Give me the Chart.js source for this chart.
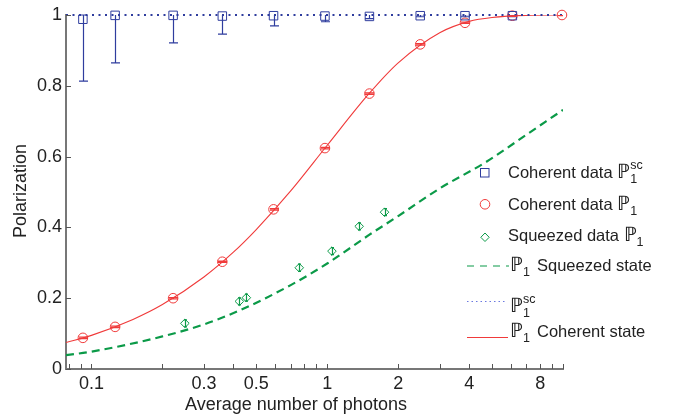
<!DOCTYPE html>
<html>
<head>
<meta charset="utf-8">
<script src="https://cdn.jsdelivr.net/npm/chart.js@4/dist/chart.umd.min.js"></script>
<style>
  body { margin: 0; background: #fff; }
  #wrap { width: 682px; height: 418px; position: relative; }
</style>
</head>
<body>
<div id="wrap"><canvas id="mycanvas"></canvas></div>
<script>
// coherent input, measured points
const cohX   = [0.092, 0.126, 0.222, 0.359, 0.592, 0.978, 1.51, 2.48, 3.84, 6.1, 9.9]
const cohP1  = [0.088, 0.119, 0.2, 0.303, 0.451, 0.624, 0.778, 0.917, 0.978, 0.998, 1.0]
const cohP1Err = [0.002, 0.002, 0.002, 0.002, 0.002, 0.002, 0.002, 0.002, 0.002, 0.002, 0.002]
// P1^sc measured at the same photon numbers (no point at the last one)
const scX    = [0.092, 0.126, 0.222, 0.359, 0.592, 0.978, 1.51, 2.48, 3.84, 6.1]
const scP1   = [0.988, 0.999, 0.999, 0.997, 0.998, 0.997, 0.996, 0.998, 0.998, 0.998]
const scErr  = [0.175, 0.134, 0.078, 0.051, 0.029, 0.016, 0.006, 0.003, 0.003, 0.003]
// squeezed input, measured points
const sqX    = [0.249, 0.424, 0.454, 0.761, 1.047, 1.366, 1.75]
const sqP1   = [0.129, 0.191, 0.2015, 0.286, 0.333, 0.403, 0.443]
const sqErr  = [0.01, 0.01, 0.01, 0.01, 0.01, 0.01, 0.01]
// theory curves
const cohCurveX = [0.078, 0.1, 0.15, 0.2, 0.3, 0.4, 0.5, 0.7, 1, 1.5, 2, 3, 4, 5, 7, 10]
const cohCurveY = [0.075, 0.095, 0.14, 0.182, 0.26, 0.33, 0.394, 0.503, 0.632, 0.777, 0.865, 0.95, 0.982, 0.993, 0.999, 1.0]
const sqCurveX  = [0.078, 0.1, 0.2, 0.3, 0.43, 0.7, 1, 1.5, 2, 3, 4.75, 7, 10]
const sqCurveY  = [0.039, 0.049, 0.092, 0.126, 0.167, 0.237, 0.298, 0.378, 0.432, 0.51, 0.586, 0.662, 0.732]
const scLineX   = [0.078, 10]
const scLineY   = [1, 1]
// axis labels
const xLabels = [0.1, 0.3, 0.5, 1, 2, 4, 8]
const yTicks  = [0, 0.2, 0.4, 0.6, 0.8, 1]

const FONT = '"Liberation Sans", Arial, sans-serif'
const BLUE = '#2f3d9e', RED = '#f03a3a', GREEN = '#0b9a48'

const pts = (xs, ys) => xs.map((x, i) => ({ x: x, y: ys[i] }))

// minor + major tick positions of the log axis
let xTickVals = []
;[0.01, 0.1, 1].forEach(d => {
  for (let k = 1; k <= 9; k++) {
    let v = Number((k * d).toPrecision(3))
    if (v >= 0.078 && v <= 10) xTickVals.push(v)
  }
})
xTickVals.push(10)

// error bars, clipped to the plot box
const errorBars = {
  id: 'errorBars',
  afterDatasetsDraw(chart) {
    const ctx = chart.ctx, a = chart.chartArea
    const xs = chart.scales.x, ys = chart.scales.y
    ctx.save()
    ctx.beginPath()
    ctx.rect(a.left, a.top, a.right - a.left, a.bottom - a.top)
    ctx.clip()
    chart.data.datasets.forEach(ds => {
      if (!ds.err) return
      ctx.strokeStyle = ds.errColor
      ctx.lineWidth = 1.2
      ds.data.forEach((p, i) => {
        const px = Math.round(xs.getPixelForValue(p.x)) + 0.5
        const lo = ys.getPixelForValue(p.y - ds.err[i])
        const hi = ys.getPixelForValue(p.y + ds.err[i])
        const w = ds.capW
        ctx.beginPath()
        ctx.moveTo(px, lo); ctx.lineTo(px, hi)
        ctx.moveTo(px - w, lo); ctx.lineTo(px + w, lo)
        ctx.moveTo(px - w, hi); ctx.lineTo(px + w, hi)
        ctx.stroke()
      })
    })
    ctx.restore()
  }
}

// inward tick marks + axis titles
const axisDeco = {
  id: 'axisDeco',
  afterDraw(chart) {
    const ctx = chart.ctx, a = chart.chartArea
    ctx.save()
    ctx.strokeStyle = '#555'
    ctx.lineWidth = 1
    chart.scales.x.ticks.forEach(t => {
      const px = Math.round(chart.scales.x.getPixelForValue(t.value)) + 0.5
      ctx.beginPath(); ctx.moveTo(px, a.bottom); ctx.lineTo(px, a.bottom - 5); ctx.stroke()
    })
    chart.scales.y.ticks.forEach(t => {
      const py = Math.round(chart.scales.y.getPixelForValue(t.value)) + 0.5
      ctx.beginPath(); ctx.moveTo(a.left, py); ctx.lineTo(a.left + 5, py); ctx.stroke()
    })
    ctx.fillStyle = '#222'
    ctx.font = '18px ' + FONT
    ctx.textAlign = 'center'
    ctx.textBaseline = 'middle'
    ctx.fillText('Average number of photons', 296, 405)
    ctx.translate(21, 191)
    ctx.rotate(-Math.PI / 2)
    ctx.fillText('Polarization', 0, 0)
    ctx.restore()
  }
}

// hand-made legend (needs sub/superscripts)
function drawP(ctx, x, base, sup) {
  ctx.font = '20px ' + FONT
  ctx.fillText('\u2119', x, base)
  const w = ctx.measureText('\u2119').width
  ctx.font = '12.5px ' + FONT
  ctx.fillText('1', x + w, base + 5)
  if (sup) ctx.fillText(sup, x + w, base - 9)
}
const legendBox = {
  id: 'legendBox',
  afterDraw(chart) {
    const ctx = chart.ctx
    ctx.save()
    ctx.fillStyle = '#222'
    ctx.textAlign = 'left'
    ctx.textBaseline = 'alphabetic'
    ctx.lineWidth = 1
    // markers
    ctx.strokeStyle = BLUE
    ctx.strokeRect(480.5, 168.5, 8.5, 8.5)
    ctx.strokeStyle = RED
    ctx.beginPath(); ctx.arc(485, 204.3, 4.8, 0, Math.PI * 2); ctx.stroke()
    ctx.strokeStyle = GREEN
    ctx.beginPath()
    ctx.moveTo(485, 233); ctx.lineTo(489.2, 237.3); ctx.lineTo(485, 241.5); ctx.lineTo(480.8, 237.3); ctx.closePath()
    ctx.stroke()
    // lines
    ctx.strokeStyle = GREEN; ctx.lineWidth = 1.2; ctx.setLineDash([7, 6])
    ctx.beginPath(); ctx.moveTo(467, 266); ctx.lineTo(509, 266); ctx.stroke()
    ctx.strokeStyle = '#6a78e0'; ctx.lineWidth = 1; ctx.setLineDash([1.5, 3])
    ctx.beginPath(); ctx.moveTo(467, 301.5); ctx.lineTo(507, 301.5); ctx.stroke()
    ctx.strokeStyle = RED; ctx.setLineDash([])
    ctx.beginPath(); ctx.moveTo(467, 337.5); ctx.lineTo(508, 337.5); ctx.stroke()
    // texts
    ctx.font = '16.5px ' + FONT
    ctx.fillText('Coherent data', 508, 178)
    let w = ctx.measureText('Coherent data ').width
    drawP(ctx, 508 + w, 178, 'sc')
    ctx.font = '16.5px ' + FONT
    ctx.fillText('Coherent data', 508, 210)
    drawP(ctx, 508 + w, 210)
    ctx.font = '16.5px ' + FONT
    ctx.fillText('Squeezed data', 508, 240.5)
    w = ctx.measureText('Squeezed data ').width
    drawP(ctx, 508 + w, 240.5)
    drawP(ctx, 510, 270.5)
    ctx.font = '16.5px ' + FONT
    ctx.fillText('Squeezed state', 537, 270.5)
    drawP(ctx, 510, 311.5, 'sc')
    drawP(ctx, 510, 337)
    ctx.font = '16.5px ' + FONT
    ctx.fillText('Coherent state', 537, 337)
    ctx.restore()
  }
}

new Chart(document.getElementById('mycanvas'), {
  type: 'scatter',
  data: {
    datasets: [
      { label: 'Coherent data P1sc', data: pts(scX, scP1), err: scErr, errColor: BLUE, capW: 4.5,
        pointStyle: 'rect', pointRadius: 6, borderColor: BLUE, backgroundColor: 'rgba(0,0,0,0)',
        borderWidth: 1, clip: false },
      { label: 'Coherent data P1', data: pts(cohX, cohP1), err: cohP1Err, errColor: RED, capW: 4.5,
        pointStyle: 'circle', pointRadius: 4.8, borderColor: RED, backgroundColor: 'rgba(0,0,0,0)',
        borderWidth: 1, clip: false },
      { label: 'Squeezed data P1', data: pts(sqX, sqP1), err: sqErr, errColor: GREEN, capW: 1.5,
        pointStyle: 'rectRot', pointRadius: 4.3, borderColor: GREEN, backgroundColor: 'rgba(0,0,0,0)',
        borderWidth: 1, clip: false },
      { label: 'P1 Squeezed state', data: pts(sqCurveX, sqCurveY), showLine: true, pointRadius: 0,
        borderColor: GREEN, borderWidth: 2.2, borderDash: [8, 5], cubicInterpolationMode: 'monotone' },
      { label: 'P1sc', data: pts(scLineX, scLineY), showLine: true, pointRadius: 0,
        borderColor: BLUE, borderWidth: 2, borderDash: [2, 4.5], clip: false },
      { label: 'P1 Coherent state', data: pts(cohCurveX, cohCurveY), showLine: true, pointRadius: 0,
        borderColor: RED, borderWidth: 1.1, cubicInterpolationMode: 'monotone' }
    ]
  },
  options: {
    responsive: true,
    maintainAspectRatio: false,
    animation: false,
    layout: { padding: { top: 15, right: 119, left: 0, bottom: 0 } },
    plugins: { legend: { display: false }, tooltip: { enabled: false } },
    scales: {
      x: {
        type: 'logarithmic', min: 0.078, max: 10,
        afterBuildTicks: s => { s.ticks = xTickVals.map(v => ({ value: v })) },
        afterFit: s => { s.height = 49 },
        grid: { display: false, drawTicks: false },
        border: { display: true, color: '#777', width: 2 },
        ticks: {
          autoSkip: false, maxRotation: 0, padding: 4, color: '#222',
          font: { family: FONT, size: 18 },
          callback: v => xLabels.some(l => Math.abs(l - v) < 1e-9) ? String(v) : ''
        }
      },
      y: {
        min: 0, max: 1,
        afterBuildTicks: s => { s.ticks = yTicks.map(v => ({ value: v })) },
        afterFit: s => { s.width = 66 },
        grid: { display: false, drawTicks: false },
        border: { display: true, color: '#777', width: 2 },
        ticks: {
          padding: 4, color: '#222',
          font: { family: FONT, size: 18 },
          callback: v => String(Number(v.toFixed(1)))
        }
      }
    }
  },
  plugins: [errorBars, axisDeco, legendBox]
})
</script>
</body>
</html>
